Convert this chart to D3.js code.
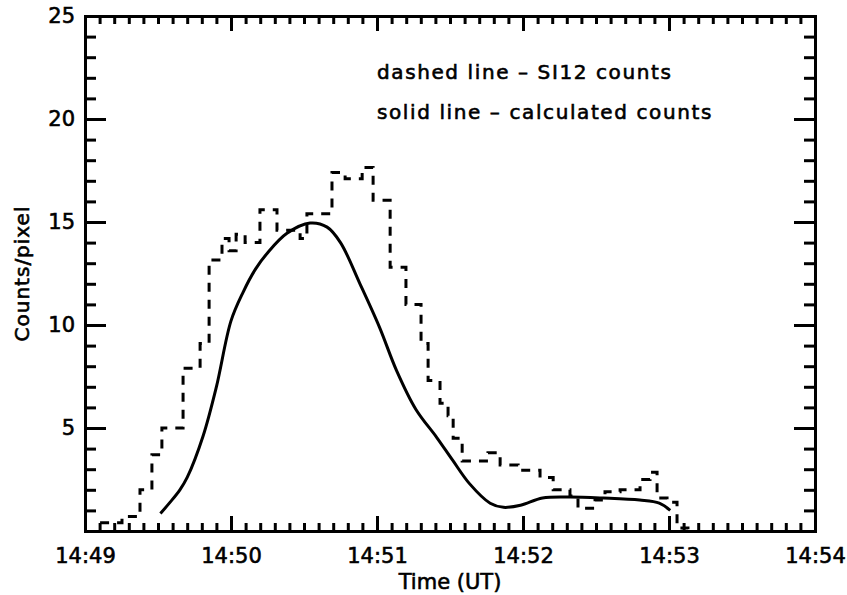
<!DOCTYPE html>
<html>
<head>
<meta charset="utf-8">
<script src="https://cdn.jsdelivr.net/npm/d3@7"></script>
<style>
  body { margin: 0; background: #fff; }
  text { font-family: "DejaVu Sans", sans-serif; fill: #000; stroke: #000; stroke-width: 0.6px; }
</style>
</head>
<body>
<div id="chart"></div>
<script>
// Global state
const margin = {top: 16, right: 32, bottom: 64, left: 85},
  width = 847 - margin.left - margin.right,
  height = 595 - margin.top - margin.bottom;

// seconds after 14:49:00
// dashed line - SI12 counts (step levels, left edge of each step)
const si12Time = [6.2, 15.2, 22.6, 27.5, 31.6, 40.3, 47.3, 51.0, 56.3, 59.2, 62.1, 65.8,
  71.9, 78.9, 88.4, 91.2, 101.5, 106.9, 113.9, 118.4, 125.4, 131.9, 138.1, 141.0,
  145.9, 149.2, 151.3, 155.0, 165.6, 170.6, 178.0, 187.0, 192.4, 199.3, 202.6, 209.6,
  213.7, 219.9, 228.1, 232.2, 235.1, 239.2, 243.3, 247.8];
const si12Counts = [0.4, 0.7, 2.0, 3.7, 5.0, 7.9, 9.1, 13.15, 14.2, 13.6, 14.4, 14.0,
  15.6, 14.6, 14.2, 15.4, 17.4, 17.1, 17.65, 16.05, 12.8, 11.0, 9.1, 7.3,
  6.2, 5.6, 4.5, 3.4, 3.8, 3.2, 2.95, 2.6, 2.0, 1.7, 1.1, 1.5,
  1.9, 2.0, 2.5, 2.85, 1.6, 1.4, 0.15, 0.0];

// solid line - calculated counts
const calcTime = [31, 35, 39, 42, 48.5, 54, 60, 65, 70, 75, 83, 92.5, 99.5, 105, 113,
  121, 128, 136, 144.5, 151, 158, 166.5, 172, 179, 188, 199, 213, 228, 236, 240.5];
const calcCounts = [0.85, 1.4, 2.0, 2.6, 4.6, 7.0, 10.2, 11.6, 12.7, 13.5, 14.45, 14.95, 14.75, 14.0, 12.0,
  9.9, 7.8, 5.9, 4.55, 3.45, 2.3, 1.35, 1.15, 1.25, 1.6, 1.65, 1.6, 1.5, 1.35, 1.0];

const yTicks = [5, 10, 15, 20, 25];

const t0 = new Date(2000, 0, 1, 14, 49, 0);
const toDate = s => new Date(t0.getTime() + s * 1000);

const svg = d3.select("#chart")
  .append("svg")
  .attr("width", width + margin.left + margin.right)
  .attr("height", height + margin.top + margin.bottom);
const g = svg.append("g")
  .attr("transform", "translate(" + margin.left + "," + margin.top + ")");

// Scales
const x = d3.scaleTime()
  .domain([t0, toDate(300)])
  .range([0, width]);
const y = d3.scaleLinear()
  .domain([0, 25])
  .range([height, 0]);

// Lines
const stepLine = d3.line()
  .x(d => x(toDate(d[0])))
  .y(d => y(d[1]))
  .curve(d3.curveStepAfter);
const smoothLine = d3.line()
  .x(d => x(toDate(d[0])))
  .y(d => y(d[1]))
  .curve(d3.curveCatmullRom.alpha(0.5));

g.append("path")
  .datum(d3.zip(si12Time, si12Counts))
  .attr("d", stepLine)
  .attr("fill", "none")
  .attr("stroke", "#000")
  .attr("stroke-width", 3)
  .attr("stroke-dasharray", "9,8");

g.append("path")
  .datum(d3.zip(calcTime, calcCounts))
  .attr("d", smoothLine)
  .attr("fill", "none")
  .attr("stroke", "#000")
  .attr("stroke-width", 3);

// Axes: major + minor ticks on all four sides
function styleAxis(sel) {
  sel.selectAll("path.domain").attr("stroke-width", 3).attr("stroke-linecap", "square");
  sel.selectAll(".tick line").attr("stroke-width", 3);
}

const minorX = d3.timeSecond.every(6);
const majorX = d3.timeMinute.every(1);
const minorY = d3.range(1, 25);

g.append("g").attr("transform", "translate(0," + height + ")")
  .call(d3.axisBottom(x).ticks(minorX).tickSize(-8).tickSizeOuter(0).tickFormat(""))
  .call(styleAxis);
g.append("g").attr("transform", "translate(0," + height + ")")
  .call(d3.axisBottom(x).ticks(majorX).tickSize(-15).tickSizeOuter(0).tickPadding(17)
    .tickFormat(d3.timeFormat("%H:%M")))
  .call(styleAxis)
  .call(a => a.selectAll("text").attr("font-size", 21).attr("font-family", "DejaVu Sans"));

g.append("g")
  .call(d3.axisTop(x).ticks(minorX).tickSize(-8).tickSizeOuter(0).tickFormat(""))
  .call(styleAxis);
g.append("g")
  .call(d3.axisTop(x).ticks(majorX).tickSize(-15).tickSizeOuter(0).tickFormat(""))
  .call(styleAxis);

g.append("g")
  .call(d3.axisLeft(y).tickValues(minorY).tickSize(-11).tickSizeOuter(0).tickFormat(""))
  .call(styleAxis);
g.append("g")
  .call(d3.axisLeft(y).tickValues(yTicks).tickSize(-21).tickSizeOuter(0).tickPadding(10)
    .tickFormat(d3.format("d")))
  .call(styleAxis)
  .call(a => a.selectAll("text").attr("font-size", 21).attr("font-family", "DejaVu Sans"));

g.append("g").attr("transform", "translate(" + width + ",0)")
  .call(d3.axisRight(y).tickValues(minorY).tickSize(-11).tickSizeOuter(0).tickFormat(""))
  .call(styleAxis);
g.append("g").attr("transform", "translate(" + width + ",0)")
  .call(d3.axisRight(y).tickValues(yTicks).tickSize(-21).tickSizeOuter(0).tickFormat(""))
  .call(styleAxis);

// Axis titles
g.append("text")
  .attr("x", width / 2)
  .attr("y", height + 58)
  .attr("text-anchor", "middle")
  .attr("font-size", 21)
  .text("Time (UT)");

g.append("text")
  .attr("transform", "translate(" + (22 - margin.left + 7) + "," + (height / 2) + ") rotate(-90)")
  .attr("text-anchor", "middle")
  .attr("font-size", 20)
  .attr("letter-spacing", 1)
  .text("Counts/pixel");

// Legend text
const legendLines = ["dashed line \u2013 SI12 counts", "solid line \u2013 calculated counts"];
g.selectAll(".legend")
  .data(legendLines)
  .join("text")
  .attr("class", "legend")
  .attr("x", 377 - margin.left)
  .attr("y", (d, i) => 79 - margin.top + i * 40)
  .attr("font-size", 20)
  .attr("letter-spacing", 1.6)
  .text(d => d);
</script>
</body>
</html>
